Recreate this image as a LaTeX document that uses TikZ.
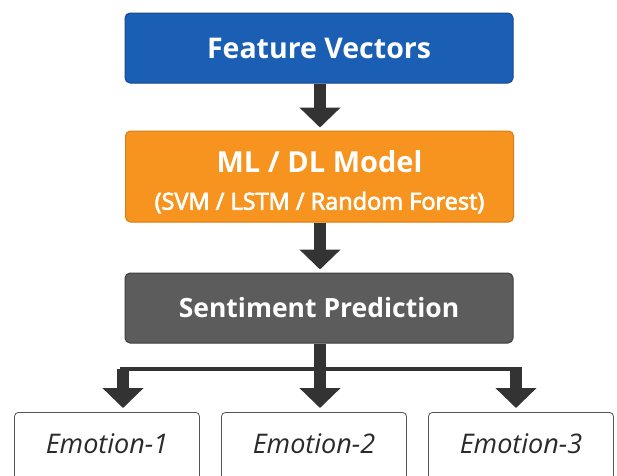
\documentclass[tikz,border=0pt]{standalone}
\usepackage{fontspec}
\setmainfont{Open Sans}
\newfontfamily\semibfont[FakeBold=3]{Open Sans}
\usetikzlibrary{arrows.meta}
\definecolor{fvblue}{HTML}{1A5FB4}
\definecolor{fvblueb}{HTML}{124A8E}
\definecolor{mlorange}{HTML}{F7941F}
\definecolor{mlorangeb}{HTML}{D97A10}
\definecolor{spgray}{HTML}{5C5C5C}
\definecolor{spgrayb}{HTML}{3E3E3E}
\definecolor{arrgray}{HTML}{333333}
\definecolor{emtext}{HTML}{2A2A2A}
\definecolor{emborder}{HTML}{555555}
\tikzset{
  mainbox/.style={rounded corners=5pt, line width=1pt, text=white, align=center,
    minimum width=388pt, inner sep=0pt},
  ebox/.style={rounded corners=4pt, draw=emborder, line width=0.8pt, fill=white, text=emtext,
    font=\itshape\fontsize{27}{32}\selectfont, minimum width=185pt, inner xsep=0pt,
    inner ysep=0pt, text height=41pt, text depth=70pt, anchor=north},
  bigarrow/.style={draw=arrgray, line width=12.5pt, -{Triangle[width=40pt,length=20pt]}},
  thinline/.style={draw=arrgray, line width=4pt},
}
\begin{document}
\begin{tikzpicture}[x=1pt,y=-1pt]
\useasboundingbox (0,0) rectangle (617,475);
\clip (0,0) rectangle (617,475);
\fill[white] (0,0) rectangle (617,475);
\node[mainbox, fill=fvblue, draw=fvblueb, minimum height=70pt, font=\bfseries\fontsize{28.5}{32}\selectfont] (fv) at (319,48) {Feature Vectors};
\node[mainbox, fill=mlorange, draw=mlorangeb, minimum height=91pt, font=\fontsize{29}{37}\selectfont] (ml) at (319.5,176.5)
  {\rule{0pt}{33pt}{\bfseries ML / DL Model}\\{\semibfont\fontsize{23.5}{37}\selectfont (SVM / LSTM / Random Forest)}};
\node[mainbox, fill=spgray, draw=spgrayb, minimum height=70pt, font=\bfseries\fontsize{26.5}{32}\selectfont] (sp) at (319,308) {Sentiment Prediction};
\node[ebox] (e1) at (107,412) {Emotion-1};
\node[ebox] (e2) at (314,412) {Emotion-2};
\node[ebox] (e3) at (521,412) {Emotion-3};
\coordinate (j) at (320,369);
\coordinate (jl) at (123,369);
\coordinate (jr) at (516,369);
\coordinate (bl) at (120,369);
\coordinate (br) at (522,369);
\draw[bigarrow, shorten >=3pt] (fv.south -| j) -- (ml.north -| j);
\draw[bigarrow, shorten >=3pt] (ml.south -| j) -- (sp.north -| j);
\draw[thinline] (bl) -- (br);
\draw[bigarrow, shorten >=4pt] (sp.south -| j) -- (e2.north -| j);
\draw[bigarrow, shorten >=4pt] (jl) -- (e1.north -| jl);
\draw[bigarrow, shorten >=4pt] (jr) -- (e3.north -| jr);
\end{tikzpicture}
\end{document}
